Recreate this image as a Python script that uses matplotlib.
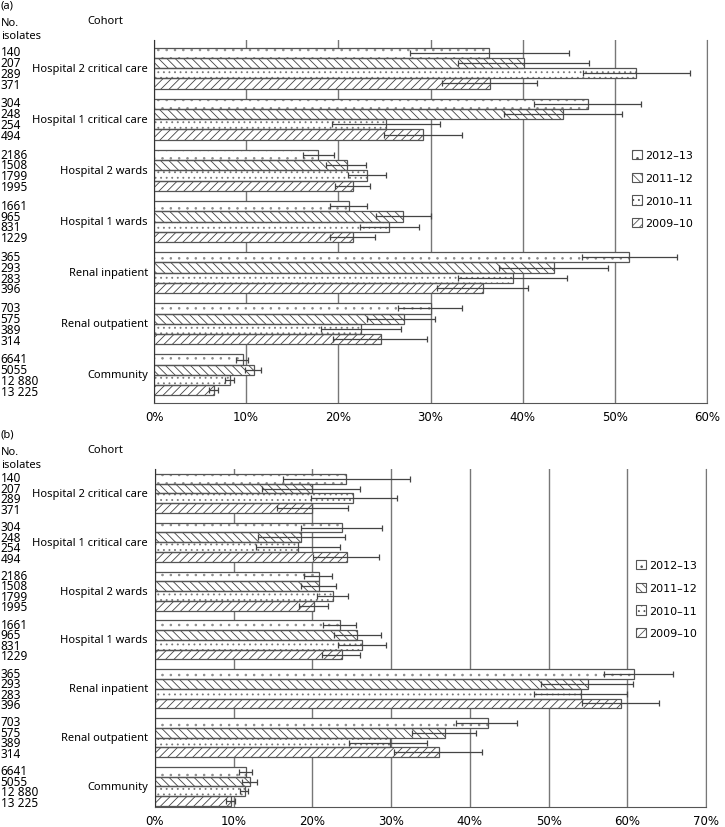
# Proportion of isolates by cohort and year, panels (a) and (b), with 95% CI

import numpy as np
import matplotlib.pyplot as plt
import matplotlib.transforms as mtrans
from matplotlib.patches import Patch

plt.rcParams['hatch.linewidth'] = 0.6

cohorts = ['Hospital 2 critical care', 'Hospital 1 critical care', 'Hospital 2 wards',
           'Hospital 1 wards', 'Renal inpatient', 'Renal outpatient', 'Community']
years = ['2012\u201313', '2011\u201312', '2010\u201311', '2009\u201310']

# number of isolates, one row per cohort, columns follow years
counts = [['140', '207', '289', '371'],
          ['304', '248', '254', '494'],
          ['2186', '1508', '1799', '1995'],
          ['1661', '965', '831', '1229'],
          ['365', '293', '283', '396'],
          ['703', '575', '389', '314'],
          ['6641', '5055', '12 880', '13 225']]

# panel (a): percentage, lower and upper CI
a_val = [[36.4, 40.1, 52.3, 36.5],
         [47.1, 44.4, 25.2, 29.2],
         [17.8, 20.9, 23.1, 21.6],
         [21.2, 27.0, 25.5, 21.6],
         [51.5, 43.4, 38.9, 35.7],
         [30.0, 27.1, 22.5, 24.6],
         [9.7, 10.8, 8.2, 6.5]]
a_lo = [[27.8, 33.0, 46.5, 31.3],
        [41.2, 38.0, 19.3, 25.0],
        [16.2, 18.7, 21.0, 19.6],
        [19.1, 24.1, 22.4, 19.1],
        [46.4, 37.4, 33.0, 30.7],
        [26.5, 23.1, 18.1, 19.4],
        [8.9, 9.9, 7.7, 6.0]]
a_hi = [[45.0, 47.2, 58.2, 41.6],
        [52.8, 50.8, 31.0, 33.4],
        [19.5, 23.0, 25.2, 23.4],
        [23.1, 30.0, 28.7, 24.0],
        [56.7, 49.3, 44.8, 40.6],
        [33.4, 30.5, 26.8, 29.6],
        [10.2, 11.6, 8.7, 6.9]]

# panel (b)
b_val = [[24.3, 20.0, 25.2, 20.0],
         [23.8, 18.6, 18.2, 24.4],
         [20.8, 20.8, 22.6, 20.2],
         [23.5, 25.7, 26.3, 23.8],
         [60.8, 55.0, 54.1, 59.2],
         [42.3, 36.8, 29.8, 36.1],
         [11.6, 12.1, 11.4, 9.6]]
b_lo = [[16.2, 13.6, 19.8, 15.5],
        [18.5, 13.1, 12.8, 20.1],
        [18.9, 18.6, 20.6, 18.3],
        [21.3, 22.8, 23.2, 21.2],
        [57.0, 49.1, 48.1, 54.2],
        [38.3, 32.6, 24.7, 30.3],
        [10.7, 11.1, 10.8, 9.0]]
b_hi = [[32.4, 26.0, 30.8, 24.5],
        [28.9, 24.1, 23.5, 28.5],
        [22.5, 23.0, 24.5, 22.0],
        [25.5, 28.7, 29.4, 26.1],
        [65.8, 60.7, 60.0, 64.0],
        [46.0, 40.8, 34.5, 41.6],
        [12.3, 13.0, 11.8, 10.2]]

hatches = ['..', '\\\\\\\\', '...', '////']
hatch_col = ['#8a8a8a', '#444444', '#777777', '#444444']
edge = '#555555'
bh = 0.2
fs = 8
fs_n = 8.5

fig = plt.figure(figsize=(7.25, 8.28), dpi=100)

# measure line pitch at linespacing 1 so the count column can follow the bars
t1 = fig.text(0, 0, '0', fontsize=fs_n, family='Noto Sans', linespacing=1.0)
t2 = fig.text(0, 0, '0\n0', fontsize=fs_n, family='Noto Sans', linespacing=1.0)
fig.canvas.draw()
unit_pitch = t2.get_window_extent().height - t1.get_window_extent().height
t1.remove()
t2.remove()


def panel(rect, val, lo, hi, xmax, ylim, tag, leg_anchor):
    ax = fig.add_axes(rect)
    val = np.array(val)
    lo = np.array(lo)
    hi = np.array(hi)
    idx = np.arange(len(cohorts))
    for j in range(len(years)):
        y = idx + (j - 1.5) * bh
        # hatch layer, then outline on top
        ax.barh(y, val[:, j], height=bh, color='white', edgecolor=hatch_col[j],
                hatch=hatches[j], linewidth=0, zorder=2)
        ax.barh(y, val[:, j], height=bh, color='none', edgecolor=edge,
                linewidth=0.9, zorder=2.5)
        ax.errorbar(val[:, j], y, xerr=[val[:, j] - lo[:, j], hi[:, j] - val[:, j]],
                    fmt='none', ecolor='#444444', elinewidth=0.9, capsize=2.5,
                    capthick=0.9, zorder=3)
    ax.set_xlim(0, xmax)
    ax.set_ylim(ylim)
    ax.set_yticks([])
    ticks = np.arange(0, xmax + 1, 10)
    ax.set_xticks(ticks)
    ax.set_xticklabels(['%d%%' % t for t in ticks], fontsize=8.5)
    ax.tick_params(axis='x', length=0, pad=5)
    ax.xaxis.grid(True, color='#777777', linewidth=1)
    ax.set_axisbelow(True)
    ax.spines['top'].set_visible(False)
    ax.spines['right'].set_color('#777777')
    ax.spines['left'].set_color('#333333')
    ax.spines['bottom'].set_color('#555555')

    ax_h = rect[3] * fig.get_figheight() * fig.dpi
    pitch = bh * ax_h / abs(ylim[0] - ylim[1])
    ls = pitch / unit_pitch

    tr = mtrans.blended_transform_factory(fig.transFigure, ax.transData)
    for i in range(len(cohorts)):
        ax.text(148 / 725, i, cohorts[i], transform=tr, ha='right', va='center',
                fontsize=fs, family='Noto Sans')
        ax.text(0.001, i, '\n'.join(counts[i]), transform=tr, ha='left',
                va='center', fontsize=fs_n, family='Noto Sans', linespacing=ls)

    top = rect[1] + rect[3]
    fig.text(0.001, top + 35 / 828, tag, fontsize=fs, family='Noto Sans', va='center')
    fig.text(0.001, top + 11 / 828, 'No.\nisolates', fontsize=fs,
             family='Noto Sans', va='center', linespacing=1.15)
    fig.text(87 / 725, top + 19 / 828, 'Cohort', fontsize=fs, family='Noto Sans',
             va='center')

    handles = [Patch(facecolor='white', edgecolor=edge, hatch=hatches[j], linewidth=0.8)
               for j in range(len(years))]
    ax.legend(handles, years, loc='upper left', bbox_to_anchor=leg_anchor,
              bbox_transform=fig.transFigure, frameon=False, fontsize=8,
              handlelength=0.9, handleheight=0.9, handletextpad=0.25,
              labelspacing=1.1, borderpad=0, borderaxespad=0)
    return ax


panel([154 / 725, 1 - 404 / 828, 553 / 725, 363 / 828], a_val, a_lo, a_hi, 60,
      (6.55, -0.55), '(a)', (632 / 725, 1 - 151 / 828))
panel([155 / 725, 1 - 808 / 828, 551 / 725, 338 / 828], b_val, b_lo, b_hi, 70,
      (6.42, -0.5), '(b)', (636 / 725, 1 - 561 / 828))

plt.savefig('out.png', dpi=100)
